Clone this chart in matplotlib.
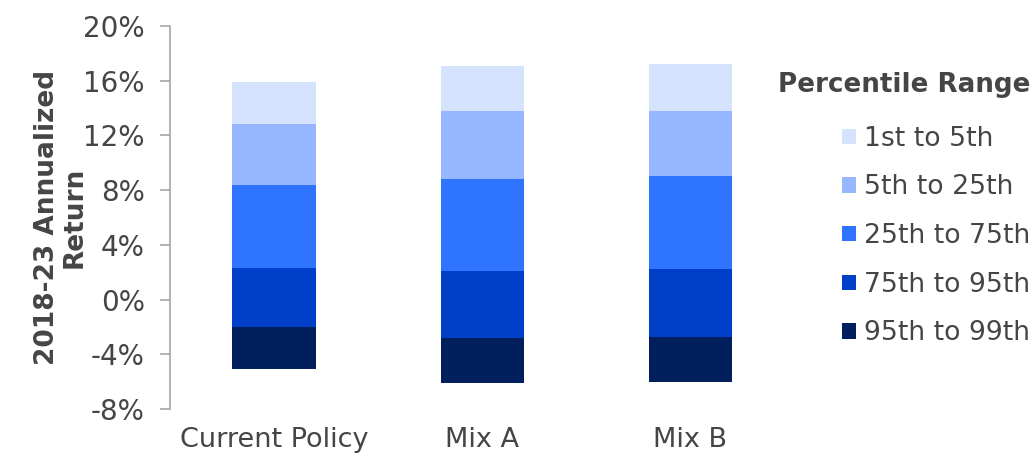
import matplotlib
matplotlib.use("Agg")
import matplotlib.pyplot as plt
import numpy as np
from matplotlib.patches import Patch

categories = ["Current Policy", "Mix A", "Mix B"]
# percentile boundaries (annualized return, %): 99th, 95th, 75th, 25th, 5th, 1st
p99 = [-5.1, -6.1, -6.0]
p95 = [-2.0, -2.8, -2.7]
p75 = [2.3, 2.1, 2.2]
p25 = [8.4, 8.8, 9.0]
p05 = [12.8, 13.8, 13.8]
p01 = [15.9, 17.1, 17.2]

series_names = ["95th to 99th", "75th to 95th", "25th to 75th", "5th to 25th", "1st to 5th"]
colors = ["#001F5C", "#0040C8", "#2E74FF", "#96B6FF", "#D6E3FF"]
yticks = [-8, -4, 0, 4, 8, 12, 16, 20]

text_color = "#454545"
plt.rcParams["font.family"] = ["DejaVu Sans"]

fig = plt.figure(figsize=(10.35, 4.57), dpi=100)
ax = fig.add_axes([170/1035, 1 - 409/457, (794.5-170)/1035, (409-26)/457])

bounds = [p99, p95, p75, p25, p05, p01]
x = np.arange(len(categories))
for i in range(5):
    lo = np.array(bounds[i])
    hi = np.array(bounds[i + 1])
    ax.bar(x, hi - lo, bottom=lo, width=0.4, color=colors[i], edgecolor="none")

ax.set_xlim(-0.5, 2.5)
ax.set_ylim(-8, 20)
ax.set_yticks(yticks)
ax.set_yticklabels([f"{t}%" for t in yticks])
ax.set_xticks(x)
ax.set_xticklabels(categories)

for s in ["top", "right", "bottom"]:
    ax.spines[s].set_visible(False)
ax.spines["left"].set_color("#A6A6A6")
ax.spines["left"].set_linewidth(1.2)
ax.tick_params(axis="y", colors="#A6A6A6", labelcolor=text_color, labelsize=20,
               length=7, width=1.2, pad=11)
ax.tick_params(axis="x", length=0, labelcolor=text_color, labelsize=19.5, pad=13)

ax.set_ylabel("2018-23 Annualized\nReturn", fontsize=19, fontweight="bold",
              color=text_color, linespacing=1.1)
ax.yaxis.set_label_coords((88 - 170) / 624.5, 0.5)

handles = [Patch(facecolor=colors[i], edgecolor="none") for i in range(4, -1, -1)]
labels = [series_names[i] for i in range(4, -1, -1)]
leg = fig.legend(handles, labels, loc="upper right", bbox_to_anchor=(1030/1035, 1 - 72/457),
                 frameon=False, fontsize=19.2, title="Percentile Range",
                 title_fontproperties={"weight": "bold", "size": 18.8},
                 handlelength=0.5, handleheight=0.5, handletextpad=0.3,
                 labelspacing=0.85, labelcolor=text_color, borderpad=0.0,
                 borderaxespad=0.0)
leg.get_title().set_color(text_color)
leg._legend_box.align = "right"
leg._legend_box.sep = 20

fig.savefig("out.png", dpi=100)
